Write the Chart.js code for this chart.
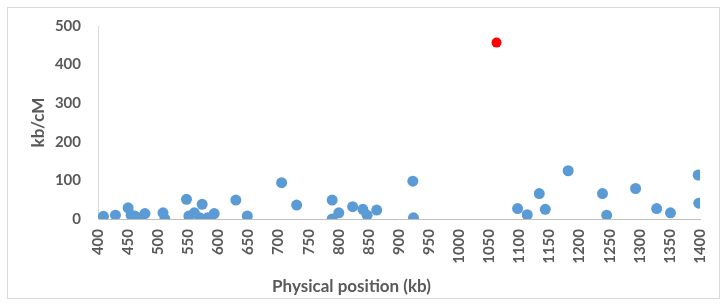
<!DOCTYPE html>
<html>
<head>
<meta charset="utf-8">
<script src="https://cdn.jsdelivr.net/npm/chart.js@4"></script>
<style>
  body { margin: 0; background: #fff; }
  #frame { position: absolute; left: 7px; top: 7px; width: 711px; height: 290px; border: 1px solid #d9d9d9; }
  #wrap { position: absolute; left: 0; top: 0; width: 728px; height: 305px; }
</style>
</head>
<body>
<div id="frame"></div>
<div id="wrap"><canvas id="myChart" width="728" height="305"></canvas></div>
<script>
// posicion fisica (kb) y kb/cM
var posiciones = [409, 429, 450, 455, 461, 467, 478, 508, 511, 547, 551, 560, 569, 573, 582, 593,
    629, 648, 705, 730, 789, 789, 800, 823, 840, 847, 863, 923, 924,
    1097, 1113, 1133, 1143, 1181, 1238, 1245, 1293, 1328, 1351, 1397, 1398];
var kbPorCm = [7, 10, 29, 10, 8, 3, 14, 16, 0, 51, 8, 16, 3, 38, 3, 14,
    49, 8, 94, 36, 49, 0, 16, 32, 25, 10, 23, 98, 3,
    27, 11, 66, 25, 125, 66, 10, 79, 27, 16, 114, 41];
var posicionAtipica = [1062];
var valorAtipico = [457];

var textColor = '#595959';

var ctx = document.getElementById('myChart').getContext('2d');

var chartData = {
    datasets: [{
        label: 'kb/cM',
        data: posiciones.map((x, i) => ({ x: x, y: kbPorCm[i] })),
        backgroundColor: '#5B9BD5',
        borderColor: '#5B9BD5',
        pointRadius: 5.5,
        borderWidth: 0
    }, {
        label: 'outlier',
        data: posicionAtipica.map((x, i) => ({ x: x, y: valorAtipico[i] })),
        backgroundColor: '#FF0000',
        borderColor: '#FF0000',
        pointRadius: 5,
        borderWidth: 0
    }]
};

var options = {
    responsive: false,
    animation: false,
    layout: { padding: { left: 0, right: 25, top: 26, bottom: 0 } },
    plugins: {
        legend: { display: false },
        tooltip: { enabled: false },
        title: {
            display: true,
            position: 'bottom',
            text: 'Physical position (kb)',
            color: textColor,
            font: { family: 'Lato', size: 17, weight: 'bold' },
            padding: { top: 0, bottom: 8 }
        }
    },
    scales: {
        x: {
            type: 'linear',
            min: 400,
            max: 1400,
            grid: { display: false, drawTicks: false },
            border: { display: true, color: '#BFBFBF', width: 1 },
            ticks: {
                stepSize: 50,
                minRotation: 90,
                maxRotation: 90,
                padding: 10,
                color: textColor,
                font: { family: 'Lato', size: 15, weight: 'bold' },
                callback: function (value) { return String(value); }
            },
            afterFit: function (scale) { scale.height = 57.6; }
        },
        y: {
            min: 0,
            max: 500,
            grid: { display: false, drawTicks: false },
            border: { display: true, color: '#D9D9D9', width: 1 },
            ticks: {
                stepSize: 100,
                padding: 17,
                color: textColor,
                font: { family: 'Lato', size: 15, weight: 'bold' }
            },
            title: {
                display: true,
                text: 'kb/cM',
                color: textColor,
                font: { family: 'Lato', size: 17, weight: 'bold' },
                padding: { top: 28, bottom: 0 }
            },
            afterFit: function (scale) { scale.width = 98; }
        }
    }
};

var myChart = new Chart(ctx, {
    type: 'scatter',
    data: chartData,
    options: options
});
</script>
</body>
</html>
